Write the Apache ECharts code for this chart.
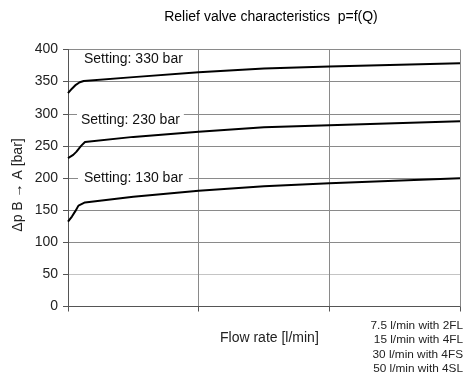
<!DOCTYPE html>
<html><head><meta charset="utf-8">
<script src="https://cdn.jsdelivr.net/npm/echarts@6/dist/echarts.min.js"></script>
<style>html,body{margin:0;padding:0;background:#fff}#c{width:474px;height:389px}</style>
</head><body><div id="c"></div>
<script>
// Flow axis in relative units (0..3, gridline every 1); no tick labels shown
const xTicks = [0, 1, 2, 3];
const yTicks = [0, 50, 100, 150, 200, 250, 300, 350, 400];
const x330 = [0, 0.03, 0.06, 0.09, 0.12, 0.5, 1.0, 1.5, 2.0, 3.0];
const y330 = [332, 339, 345, 349, 351, 357, 364.5, 370.5, 373.5, 378.5];
const x230 = [0, 0.04, 0.065, 0.1, 0.13, 0.5, 1.0, 1.5, 2.0, 3.0];
const y230 = [231, 236, 241, 250, 256, 264, 272, 279, 282, 288.5];
const x130 = [0, 0.03, 0.055, 0.08, 0.13, 0.5, 1.0, 1.5, 2.0, 3.0];
const y130 = [132, 140, 148, 157, 162, 171, 180, 187, 192, 199.5];
const settingLabels = ['Setting: 330 bar', 'Setting: 230 bar', 'Setting: 130 bar'];
const footnotes = ['7.5 l/min with 2FL', '15 l/min with 4FL', '30 l/min with 4FS', '50 l/min with 4SL'];
const titleText = 'Relief valve characteristics  p=f(Q)';
const xName = 'Flow rate [l/min]';
const yName = 'Δp B → A [bar]';

const FONT = 'Liberation Sans, Arial, sans-serif';
const zip = (xs, ys) => xs.map((x, i) => [x, ys[i]]);
const chart = echarts.init(document.getElementById('c'));
const lineSeries = (xs, ys) => ({
  type: 'line', data: zip(xs, ys), symbol: 'none', smooth: false,
  lineStyle: { color: '#000', width: 2 }, z: 5
});
const gridColors = yTicks.map((v) => (v === 50 ? '#c4c4c4' : '#8a8a8a'));
chart.setOption({
  animation: false,
  backgroundColor: '#fff',
  title: {
    text: titleText, left: 266, top: 5, textAlign: 'center',
    textStyle: { fontFamily: FONT, fontSize: 14, fontWeight: 'normal', color: '#000' }
  },
  grid: { left: 68, right: 14, top: 49.5, bottom: 82.5, containLabel: false },
  xAxis: {
    type: 'value', min: xTicks[0], max: xTicks[xTicks.length - 1], interval: 1,
    axisLine: { show: true, lineStyle: { color: '#555', width: 1 } },
    axisTick: { show: true, length: 5, lineStyle: { color: '#555' } },
    axisLabel: { show: false },
    splitLine: { show: true, lineStyle: { color: '#8a8a8a', width: 1 } }
  },
  yAxis: {
    type: 'value', min: yTicks[0], max: yTicks[yTicks.length - 1], interval: 50,
    axisLine: { show: true, lineStyle: { color: '#555', width: 1 } },
    axisTick: { show: true, length: 5, lineStyle: { color: '#555' } },
    axisLabel: { fontFamily: FONT, fontSize: 14, color: '#222', margin: 10 },
    splitLine: { show: true, lineStyle: { color: gridColors, width: 1 } }
  },
  series: [lineSeries(x330, y330), lineSeries(x230, y230), lineSeries(x130, y130)],
  graphic: [
    { type: 'text', left: 80, top: 51, z: 100,
      style: { text: settingLabels[0], font: '14px ' + FONT, fill: '#111', backgroundColor: '#fff', padding: [1, 4, 1, 4] } },
    { type: 'text', left: 77, top: 112, z: 100,
      style: { text: settingLabels[1], font: '14px ' + FONT, fill: '#111', backgroundColor: '#fff', padding: [1, 4, 1, 4] } },
    { type: 'text', left: 78, top: 170, z: 100,
      style: { text: settingLabels[2], font: '14px ' + FONT, fill: '#111', backgroundColor: '#fff', padding: [1, 6, 1, 6] } },
    { type: 'text', left: 220, top: 331, z: 100,
      style: { text: xName, font: '14px ' + FONT, fill: '#222' } },
    { type: 'text', x: 18, y: 185, rotation: Math.PI / 2, z: 100,
      style: { text: yName, font: '14px ' + FONT, fill: '#222', align: 'center', verticalAlign: 'middle' } },
    { type: 'text', right: 11, top: 318, z: 100,
      style: { text: footnotes.join('\n'), font: '11.8px ' + FONT, fill: '#222', textAlign: 'right', lineHeight: 14.5 } }
  ]
});
</script></body></html>
